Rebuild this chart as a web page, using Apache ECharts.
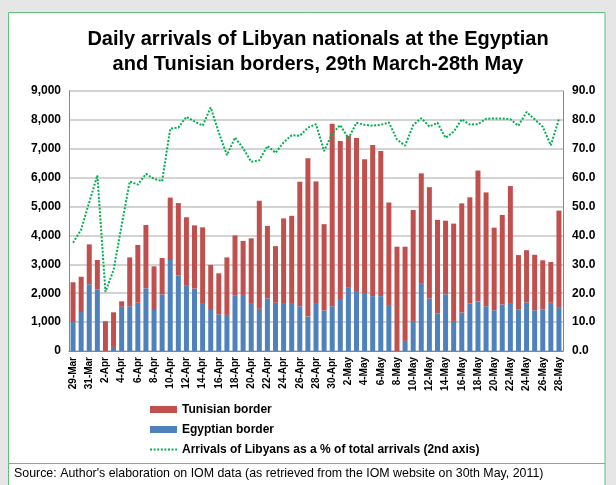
<!DOCTYPE html>
<html>
<head>
<meta charset="utf-8">
<script src="https://cdn.jsdelivr.net/npm/echarts@6/dist/echarts.min.js"></script>
<style>
  html, body { margin: 0; padding: 0; background: #e6e6e6; }
  #chart { width: 616px; height: 485px; }
</style>
</head>
<body>
<div id="chart"></div>
<script>
  // categories: 29 March - 28 May 2011
  const dates = [
    '29-Mar','30-Mar','31-Mar',
    '1-Apr','2-Apr','3-Apr','4-Apr','5-Apr','6-Apr','7-Apr','8-Apr','9-Apr','10-Apr',
    '11-Apr','12-Apr','13-Apr','14-Apr','15-Apr','16-Apr','17-Apr','18-Apr','19-Apr','20-Apr',
    '21-Apr','22-Apr','23-Apr','24-Apr','25-Apr','26-Apr','27-Apr','28-Apr','29-Apr','30-Apr',
    '1-May','2-May','3-May','4-May','5-May','6-May','7-May','8-May','9-May','10-May',
    '11-May','12-May','13-May','14-May','15-May','16-May','17-May','18-May','19-May','20-May',
    '21-May','22-May','23-May','24-May','25-May','26-May','27-May','28-May'
  ];

  // daily arrivals at the Egyptian border (bottom of the stack)
  const egyptian = [
    1000,1350,2310,
    2130,0,140,1530,1550,1670,2170,1420,1960,3150,
    2610,2280,2160,1660,1420,1270,1250,1930,1940,1660,
    1460,1820,1670,1660,1630,1550,1190,1660,1400,1550,
    1800,2210,2080,2010,1900,1900,1590,0,350,1040,
    2350,1820,1300,1960,1040,1330,1650,1710,1550,1410,
    1610,1660,1430,1680,1410,1440,1670,1520
  ];

  // daily arrivals at the Tunisian border (stacked on top)
  const tunisian = [
    1380,1220,1380,
    1020,1030,1200,190,1690,2000,2190,1510,1260,2160,
    2510,2350,2190,2620,1560,1420,1990,2070,1870,2240,
    3740,2510,1960,2930,3050,4310,5480,4210,2990,6320,
    5470,5240,5290,4630,5230,5020,3550,3610,3260,3840,
    3800,3850,3240,2550,3370,3780,3670,4540,3940,2860,
    3100,4050,1890,1810,1920,1700,1410,3340
  ];

  // Libyans as a % of total arrivals (2nd axis)
  const libyanShare = [
    37.5,42.0,51.5,
    60.8,20.5,28.0,43.5,58.7,57.6,61.3,59.6,58.8,77.0,
    77.3,81.1,79.5,78.0,84.3,75.6,67.8,73.9,70.2,65.5,
    66.0,71.0,68.6,72.2,74.7,74.5,77.3,78.5,69.2,75.3,
    78.2,73.6,79.0,78.3,78.0,78.3,79.1,73.2,71.1,78.2,
    80.6,77.7,79.0,73.8,75.9,80.2,78.4,78.5,80.4,80.5,
    80.5,80.2,78.0,82.7,80.2,77.6,71.2,80.3
  ];

  const font = '"Liberation Sans", Arial, sans-serif';
  const green = '#00b050';

  let myChart = echarts.init(document.getElementById('chart'));
  let option = {
    backgroundColor: '#e6e6e6',
    animation: false,
    textStyle: { fontFamily: font },
    title: {
      text: 'Daily arrivals of Libyan nationals at the Egyptian\nand Tunisian borders, 29th March-28th May',
      left: 313,
      top: 22,
      textAlign: 'center',
      textStyle: { fontFamily: font, fontSize: 20, fontWeight: 'bold', color: '#000', lineHeight: 25 }
    },
    graphic: [
      {
        type: 'rect', z: -1,
        shape: { x: 8.5, y: 12.5, width: 596.5, height: 480 },
        style: { fill: '#fff', stroke: '#5ec27c', lineWidth: 1 }
      },
      {
        type: 'line', z: -1,
        shape: { x1: 8.5, y1: 463.5, x2: 605, y2: 463.5 },
        style: { stroke: '#5ec27c', lineWidth: 1 }
      },
      {
        type: 'text', x: 14, y: 474,
        style: {
          text: "Source: Author's elaboration on IOM data (as retrieved from the IOM website on 30th May, 2011)",
          font: '12.4px ' + font, fill: '#000', verticalAlign: 'middle'
        }
      }
    ],
    legend: {
      orient: 'vertical',
      left: 149,
      top: 403,
      padding: 0,
      itemWidth: 27,
      itemHeight: 7,
      itemGap: 7,
      textStyle: { fontFamily: font, fontSize: 12, fontWeight: 'bold', color: '#000', lineHeight: 13 },
      data: [
        { name: 'Tunisian border', icon: 'rect' },
        { name: 'Egyptian border', icon: 'rect' },
        { name: 'Arrivals of Libyans as a % of total arrivals (2nd axis)', itemStyle: { opacity: 0 } }
      ]
    },
    grid: { left: 69, right: 53, top: 91, bottom: 134 },
    xAxis: {
      type: 'category',
      data: dates,
      axisLine: { lineStyle: { color: '#868686' } },
      axisTick: { interval: 1, lineStyle: { color: '#868686' } },
      axisLabel: {
        interval: 1,
        rotate: 90,
        margin: 6,
        fontFamily: font,
        fontSize: 10,
        fontWeight: 'bold',
        color: '#000'
      }
    },
    yAxis: [
      {
        type: 'value',
        min: 0, max: 9000, interval: 1000,
        axisLine: { show: true, lineStyle: { color: '#868686' } },
        axisTick: { show: false },
        splitLine: { lineStyle: { color: '#c4c4c4', width: 1.5 } },
        axisLabel: {
          margin: 8,
          fontFamily: font, fontSize: 12, fontWeight: 'bold', color: '#000',
          formatter: v => v.toLocaleString('en-US')
        }
      },
      {
        type: 'value',
        min: 0, max: 90, interval: 10,
        axisLine: { show: true, lineStyle: { color: '#868686' } },
        axisTick: { show: false },
        splitLine: { show: false },
        axisLabel: {
          margin: 9,
          fontFamily: font, fontSize: 12, fontWeight: 'bold', color: '#000',
          formatter: v => v.toFixed(1)
        }
      }
    ],
    series: [
      {
        name: 'Egyptian border',
        type: 'bar',
        stack: 'arrivals',
        barWidth: 5,
        itemStyle: { color: '#4f81bd' },
        data: egyptian
      },
      {
        name: 'Tunisian border',
        type: 'bar',
        stack: 'arrivals',
        barWidth: 5,
        itemStyle: { color: '#c0504d' },
        data: tunisian
      },
      {
        name: 'Arrivals of Libyans as a % of total arrivals (2nd axis)',
        type: 'line',
        yAxisIndex: 1,
        symbol: 'none',
        z: 5,
        lineStyle: { color: green, width: 2, type: [2, 1.6] },
        itemStyle: { color: green },
        data: libyanShare
      }
    ]
  };
  myChart.setOption(option);
</script>
</body>
</html>
